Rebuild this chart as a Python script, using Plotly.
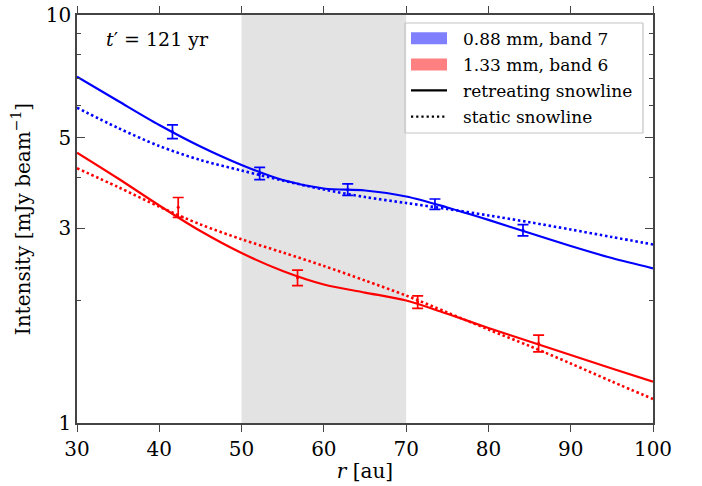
import plotly.graph_objects as go

# ---- data ----
r_grid = [30, 35, 40, 45, 50, 55, 60, 65, 70, 75, 80, 85, 90, 95, 100]

I_b7_retreat = [7.063, 6.154, 5.375, 4.761, 4.290, 3.940, 3.756, 3.714, 3.591, 3.375, 3.146, 2.922, 2.716, 2.537, 2.394]
I_b7_static = [5.927, 5.285, 4.774, 4.412, 4.157, 3.930, 3.735, 3.580, 3.461, 3.346, 3.227, 3.105, 2.980, 2.857, 2.739]
I_b6_retreat = [4.598, 3.974, 3.413, 2.955, 2.610, 2.358, 2.185, 2.088, 1.996, 1.852, 1.710, 1.584, 1.468, 1.360, 1.262]
I_b6_static = [4.210, 3.786, 3.390, 3.067, 2.820, 2.618, 2.426, 2.235, 2.053, 1.866, 1.695, 1.544, 1.399, 1.264, 1.145]

r_obs_b7 = [41.6, 52.2, 62.9, 73.5, 84.2]
I_obs_b7 = [5.18, 4.09, 3.735, 3.44, 2.97]
e_obs_b7 = [0.20, 0.14, 0.12, 0.10, 0.095]

r_obs_b6 = [42.3, 56.8, 71.4, 86.1]
I_obs_b6 = [3.38, 2.27, 1.98, 1.568]
e_obs_b6 = [0.19, 0.10, 0.07, 0.074]

snowline_band = [50, 70]
y_tickvals = [1, 3, 5, 10]
y_minorvals = [2, 4, 6, 7, 8, 9]
x_tickvals = [30, 40, 50, 60, 70, 80, 90, 100]

legend_labels = ["0.88 mm, band 7", "1.33 mm, band 6", "retreating snowline", "static snowline"]

BLUE = "#0000ff"
RED = "#ff0000"
FONT = "'DejaVu Serif', 'Liberation Serif', serif"
AX = "#444444"

# figure geometry (pixels)
W, H = 702, 486
L, R, T, B = 77, 49, 15, 63
PW, PH = W - L - R, H - T - B


def px(x):
    return (x - L) / PW


def py(y):
    return (H - B - y) / PH


fig = go.Figure()

fig.add_vrect(x0=snowline_band[0], x1=snowline_band[1], fillcolor="#e3e3e3",
              opacity=1, line_width=0, layer="below")

dot = "2.5px,2.7px"
for ys, c, d in [
    (I_b7_static, BLUE, dot),
    (I_b6_static, RED, dot),
    (I_b7_retreat, BLUE, "solid"),
    (I_b6_retreat, RED, "solid"),
]:
    fig.add_trace(go.Scatter(x=r_grid, y=ys, mode="lines",
                             line=dict(color=c, width=2.2 if d == "solid" else 2.6, dash=d,
                                       shape="spline", smoothing=0.9),
                             showlegend=False, hoverinfo="skip"))

for xs, ys, es, c in [(r_obs_b7, I_obs_b7, e_obs_b7, BLUE), (r_obs_b6, I_obs_b6, e_obs_b6, RED)]:
    fig.add_trace(go.Scatter(x=xs, y=ys, mode="markers",
                             marker=dict(color=c, size=3),
                             error_y=dict(type="data", array=es, visible=True, color=c,
                                          thickness=1.7, width=5.5),
                             showlegend=False))

# manual legend
shapes = []
bx0, bx1, by0, by1 = 405, 643, 23, 133
shapes.append(dict(type="rect", xref="paper", yref="paper",
                   x0=px(bx0), x1=px(bx1), y0=py(by1), y1=py(by0),
                   fillcolor="rgba(255,255,255,0.9)", line=dict(width=0)))
border = dict(color="#c4c4c4", width=1.2)
for (xa, ya, xb, yb) in [(bx0, by0, bx1, by0), (bx1, by0, bx1, by1),
                         (bx1, by1, bx0, by1), (bx0, by1, bx0, by0)]:
    shapes.append(dict(type="line", xref="paper", yref="paper",
                       x0=px(xa), y0=py(ya), x1=px(xb), y1=py(yb), line=border))
rows = [38.3, 64.5, 90.3, 116.7]
shapes.append(dict(type="rect", xref="paper", yref="paper", x0=px(411), x1=px(447),
                   y0=py(rows[0] - 6), y1=py(rows[0] + 6), fillcolor="#8080ff", line_width=0))
shapes.append(dict(type="rect", xref="paper", yref="paper", x0=px(411), x1=px(447),
                   y0=py(rows[1] - 6), y1=py(rows[1] + 6), fillcolor="#ff8080", line_width=0))
shapes.append(dict(type="line", xref="paper", yref="paper", x0=px(411), x1=px(447),
                   y0=py(rows[2]), y1=py(rows[2]), line=dict(color="black", width=2.2)))
shapes.append(dict(type="line", xref="paper", yref="paper", x0=px(411), x1=px(447),
                   y0=py(rows[3]), y1=py(rows[3]), line=dict(color="black", width=2.2, dash="2.2px,3px")))

annotations = []
for lab, yy in zip(legend_labels, rows):
    annotations.append(dict(text=lab, xref="paper", yref="paper", x=px(461), y=py(yy + 0.5),
                            xanchor="left", yanchor="middle", showarrow=False,
                            font=dict(family=FONT, size=17, color="black")))
annotations.append(dict(text="<i>t</i>′ = 121 yr", xref="paper", yref="paper",
                        x=px(157), y=py(39), xanchor="center", yanchor="middle",
                        showarrow=False, font=dict(family=FONT, size=19, color="black")))

fig.update_layout(
    width=W, height=H,
    margin=dict(l=L, r=R, t=T, b=B, autoexpand=False),
    paper_bgcolor="white", plot_bgcolor="white",
    font=dict(family=FONT, size=20, color="black"),
    shapes=shapes, annotations=annotations,
    showlegend=False,
)

fig.update_xaxes(
    range=[30, 100], tickvals=x_tickvals, ticktext=[str(v) for v in x_tickvals],
    ticks="outside", ticklen=7, tickwidth=1.3, tickcolor=AX,
    showline=True, linecolor=AX, linewidth=1.5, mirror="allticks",
    showgrid=False, zeroline=False, automargin=False,
    tickfont=dict(family=FONT, size=20, color="black"),
    title=dict(text="<i>r</i> [au]", font=dict(family=FONT, size=20), standoff=4),
)
fig.update_yaxes(
    type="log", range=[0, 1],
    tickvals=y_tickvals, ticktext=[str(v) for v in y_tickvals],
    ticks="inside", ticklen=8, tickwidth=1.3, tickcolor=AX,
    minor=dict(tickvals=y_minorvals, ticks="inside", ticklen=4, tickwidth=1.3, tickcolor=AX, showgrid=False),
    showline=True, linecolor=AX, linewidth=1.5, mirror="allticks",
    showgrid=False, zeroline=False, automargin=False,
    tickfont=dict(family=FONT, size=20, color="black"),
    title=dict(text="Intensity [mJy beam<sup>−1</sup>]", font=dict(family=FONT, size=20), standoff=10),
)

fig.write_html("out.html", config={"displayModeBar": False},
               post_script="document.body.style.margin='0px';")
